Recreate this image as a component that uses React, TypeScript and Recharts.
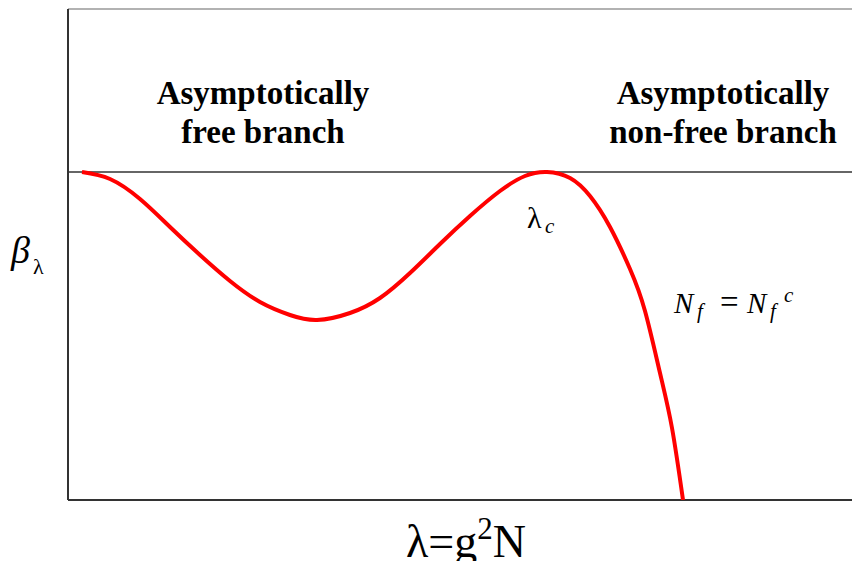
import React from "react";
import { LineChart, Line, XAxis, YAxis, ReferenceLine, Customized } from "recharts";

// lambda (horizontal position) and beta (vertical value, 0 = fixed-point line)
const lambdaValues = [82, 110, 140, 170, 200, 230, 260, 290, 317, 350, 380, 410, 440, 470, 500, 525, 547, 570, 590, 610, 630, 645, 660, 672, 683];
const betaValues = [0, -7, -27, -55, -83, -109, -130, -143, -148, -141, -126, -101, -72, -44, -19, -4, 0, -6, -24, -55, -97, -139, -201, -256, -328];

const xDomain = [68, 852];
const yDomain = [-328, 163];

const leftBranchLabel = ["Asymptotically", "free branch"];
const rightBranchLabel = ["Asymptotically", "non-free branch"];

const data = lambdaValues.map((x, i) => ({ x, y: betaValues[i] }));

const serif = "Liberation Serif";

const T = ({ children, ...rest }: any) => (
  <text {...rest} fontFamily={serif} fill="#000">
    {children}
  </text>
);

const Annotations = () => (
  <g>
    {/* y-axis title */}
    <T x={11} y={263} fontSize={38} fontStyle="italic">β</T>
    <T x={33} y={274} fontSize={22}>λ</T>
    {/* x-axis title */}
    <T x={406} y={557} fontSize={46}>
      λ=g<tspan dy={-18} fontSize={31}>2</tspan><tspan dy={18}>N</tspan>
    </T>
    {/* branch labels */}
    <T x={263} y={104} fontSize={33} fontWeight={700} textAnchor="middle">{leftBranchLabel[0]}</T>
    <T x={263} y={143} fontSize={33} fontWeight={700} textAnchor="middle">{leftBranchLabel[1]}</T>
    <T x={723} y={104} fontSize={33} fontWeight={700} textAnchor="middle">{rightBranchLabel[0]}</T>
    <T x={723} y={143} fontSize={33} fontWeight={700} textAnchor="middle">{rightBranchLabel[1]}</T>
    {/* lambda_c */}
    <T x={527} y={228} fontSize={30}>λ</T>
    <T x={545} y={233} fontSize={21} fontStyle="italic">c</T>
    {/* N_f = N_f^c */}
    <T x={674} y={313} fontSize={29} fontStyle="italic">N</T>
    <T x={697} y={318} fontSize={21} fontStyle="italic">f</T>
    <T x={720} y={313} fontSize={33}>=</T>
    <T x={747} y={313} fontSize={29} fontStyle="italic">N</T>
    <T x={770} y={318} fontSize={21} fontStyle="italic">f</T>
    <T x={784} y={302} fontSize={21} fontStyle="italic">c</T>
  </g>
);

export default function App() {
  return (
    <div style={{ position: "absolute", left: 0, top: 0, background: "#fff" }}>
      <LineChart width={852} height={561} data={data} margin={{ top: 9, right: 0, left: 68, bottom: 61 }}>
        <XAxis dataKey="x" type="number" domain={xDomain} hide allowDataOverflow />
        <YAxis type="number" domain={yDomain} hide allowDataOverflow />
        <ReferenceLine y={163} stroke="#999" strokeWidth={1.5} />
        <ReferenceLine y={0} stroke="#333" strokeWidth={1.3} />
        <ReferenceLine y={-328} stroke="#333" strokeWidth={2} />
        <ReferenceLine x={68} stroke="#333" strokeWidth={2} />
        <Line
          type="natural"
          dataKey="y"
          stroke="#ff0000"
          strokeWidth={4}
          dot={false}
          isAnimationActive={false}
        />
        <Customized component={Annotations} />
      </LineChart>
    </div>
  );
}
